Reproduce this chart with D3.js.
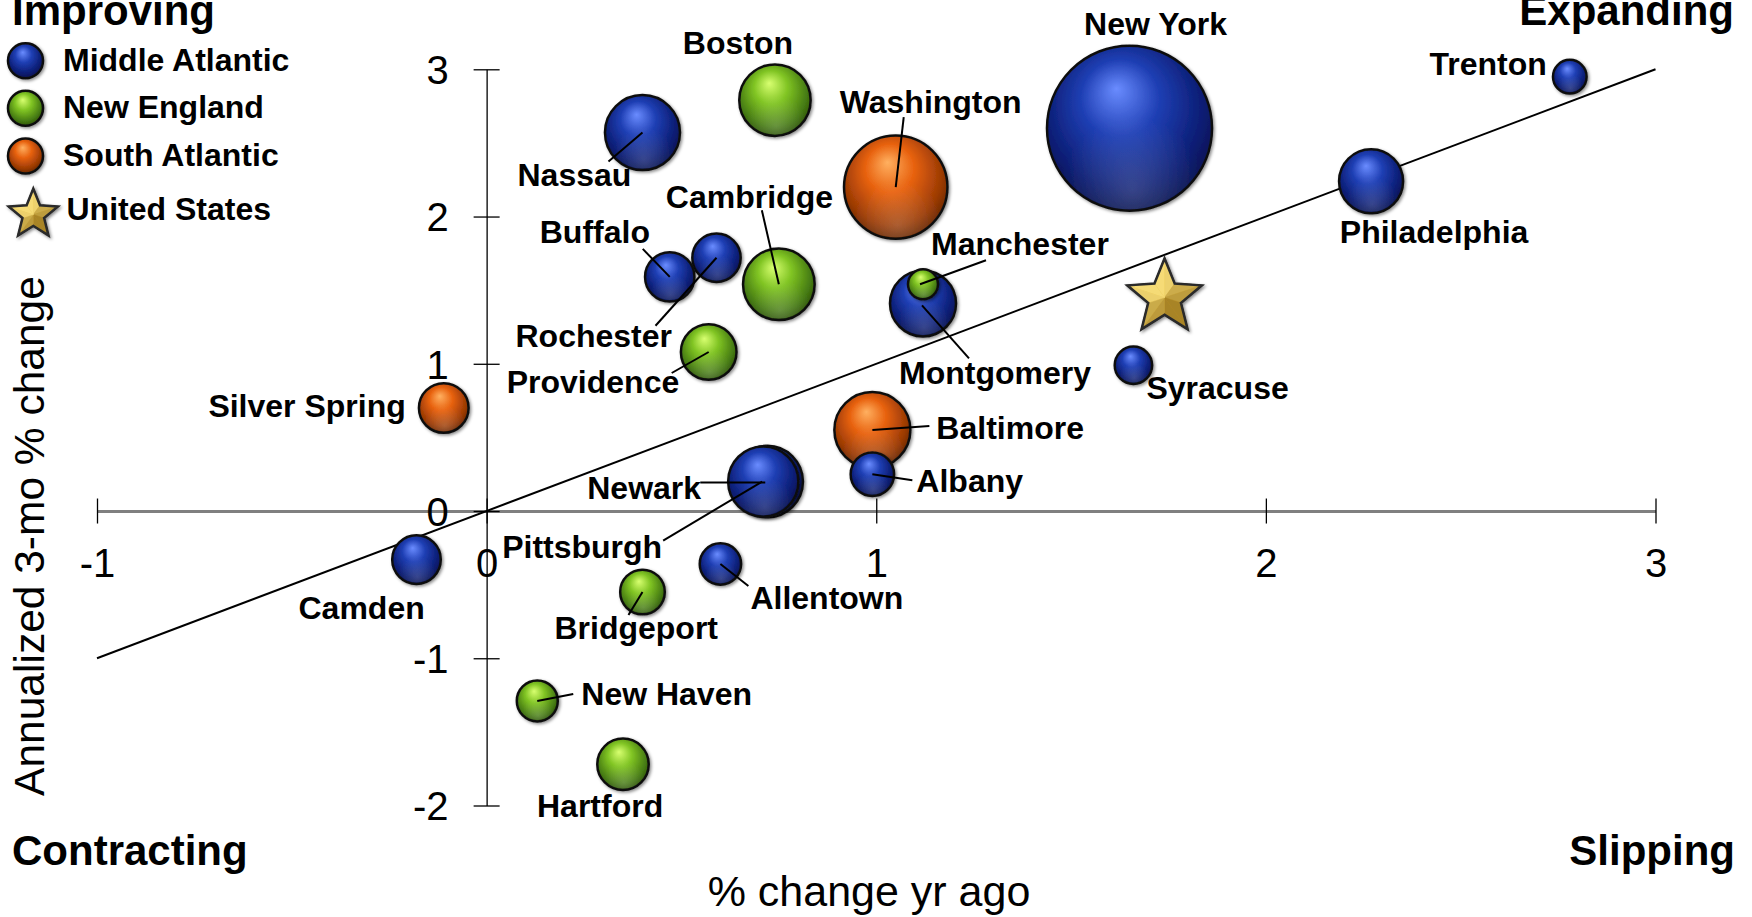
<!DOCTYPE html>
<html>
<head>
<meta charset="utf-8">
<script src="https://cdn.jsdelivr.net/npm/d3@7"></script>
<style>
  html, body { margin: 0; padding: 0; background: #fff; }
  svg { display: block; }
  text { font-family: "Liberation Sans", Arial, Helvetica, sans-serif; }
</style>
</head>
<body>
<svg id="chart" width="1752" height="917"></svg>
<script>
// ---------------- DATA ----------------
const regions = ["Middle Atlantic", "New England", "South Atlantic"];
// draw order = array order
const cities = ["New York", "Washington", "Baltimore", "Nassau", "Pittsburgh", "Newark", "Boston", "Cambridge",
  "Montgomery", "Philadelphia", "Providence", "Hartford", "Silver Spring", "Rochester", "Buffalo", "Camden",
  "Bridgeport", "Albany", "Allentown", "New Haven", "Syracuse", "Trenton", "Manchester"];
const cityRegion = [0, 2, 2, 0, 0, 0, 1, 1,
  0, 0, 1, 1, 2, 0, 0, 0,
  1, 0, 0, 1, 0, 0, 1];
const pctYrAgo = [1.65, 1.05, 0.99, 0.40, 0.72, 0.71, 0.74, 0.75,
  1.12, 2.27, 0.57, 0.35, -0.11, 0.59, 0.47, -0.18,
  0.40, 0.99, 0.60, 0.13, 1.66, 2.78, 1.12];
const annual3mo = [2.60, 2.20, 0.55, 2.57, 0.20, 0.20, 2.79, 1.54,
  1.41, 2.24, 1.08, -1.72, 0.70, 1.72, 1.59, -0.33,
  -0.55, 0.25, -0.36, -1.29, 0.99, 2.95, 1.54];
const sizes = [4200, 1649, 891, 868, 790, 760, 786, 791,
  672, 632, 477, 408, 380, 361, 376, 364,
  307, 291, 264, 259, 216, 174, 139];
const usName = "United States";
const usPoint = [1.74, 1.45];
const xTicks = [-1, 0, 1, 2, 3];
const yTicks = [-2, -1, 0, 1, 2, 3];
const fitLine = [[-1, -1], [3, 3]];
const quadrantLabels = ["Improving", "Expanding", "Contracting", "Slipping"];
const xTitle = "% change yr ago";
const yTitle = "Annualized 3-mo % change";

// ---------------- LAYOUT (pixels) ----------------
// label: [dx, dy, anchor, leaderDx, leaderDy, leaderEndDx, leaderEndDy] relative to bubble centre
const labelLayout = {
  "New York": [26, -93, "middle"],
  "Trenton": [-23, -2, "end"],
  "Philadelphia": [63, 62, "middle"],
  "Nassau": [-125, 53, "start", -34, 29, 0, 0],
  "Boston": [-37, -46, "middle"],
  "Washington": [-56, -74, "start", 8, -70, 0, 0],
  "Cambridge": [-113, -76, "start", -17, -74, 0, 0],
  "Buffalo": [-130, -34, "start", -27, -28, 0, 0],
  "Rochester": [-201, 89, "start", -61, 68, 0, 0],
  "Providence": [-202, 41, "start", -37, 21, 0, 0],
  "Manchester": [8, -29, "start", 63, -24, -3, 0],
  "Montgomery": [-24, 81, "start", 46, 55, -1, 2],
  "Syracuse": [13, 34, "start"],
  "Silver Spring": [-38, 9, "end"],
  "Baltimore": [64, 9, "start", 57, -4, 0, 0],
  "Albany": [44, 18, "start", 40, 6, 0, 0],
  "Newark": [-176, 17, "start", -63, 1, 2, 1],
  "Pittsburgh": [-265, 76, "start", -104, 59, -5, 0],
  "Camden": [-118, 59, "start"],
  "Allentown": [30, 45, "start", 28, 22, 0, 0],
  "Bridgeport": [-88, 47, "start", -14, 23, 0, 0],
  "New Haven": [44, 4, "start", 36, -7, 0, 0],
  "Hartford": [-86, 53, "start"]
};

const W = 1752, H = 917;
const svg = d3.select("#chart");

const x = d3.scaleLinear().domain([-1, 3]).range([97, 1655.5]);
const y = d3.scaleLinear().domain([-2, 3]).range([805.5, 69.3]);
const r = d3.scaleSqrt().domain([0, 4200]).range([0, 82.5]);

const palette = [
  { hi: "#6a8cff", mid: "#1f3fb4", lo: "#0b1c72", edge: "#061048" },
  { hi: "#d8ff70", mid: "#80c423", lo: "#457a12", edge: "#28480a" },
  { hi: "#ffb060", mid: "#e8620f", lo: "#9a3a04", edge: "#5a2202" }
];

const defs = svg.append("defs");
palette.forEach((p, i) => {
  const g = defs.append("radialGradient").attr("id", "grad" + i)
    .attr("cx", "48%").attr("cy", "42%").attr("r", "62%")
    .attr("fx", "42%").attr("fy", "26%");
  g.append("stop").attr("offset", "0%").attr("stop-color", p.hi);
  g.append("stop").attr("offset", "38%").attr("stop-color", p.mid);
  g.append("stop").attr("offset", "78%").attr("stop-color", p.lo);
  g.append("stop").attr("offset", "100%").attr("stop-color", p.edge);
});
// subtle bottom reflection
const refl = defs.append("radialGradient").attr("id", "refl")
  .attr("cx", "52%").attr("cy", "88%").attr("r", "45%");
refl.append("stop").attr("offset", "0%").attr("stop-color", "#fff").attr("stop-opacity", 0.18);
refl.append("stop").attr("offset", "100%").attr("stop-color", "#fff").attr("stop-opacity", 0);

const shadow = defs.append("filter").attr("id", "shadow").attr("x", "-20%").attr("y", "-20%")
  .attr("width", "150%").attr("height", "150%");
shadow.append("feDropShadow").attr("dx", 1.5).attr("dy", 1.5).attr("stdDeviation", 1.5)
  .attr("flood-color", "#000").attr("flood-opacity", 0.45);

// ---------------- AXES ----------------
const fmt = d => String(d);
const xAxis = d3.axisBottom(x).tickValues(xTicks).tickSize(0).tickPadding(0).tickFormat(fmt);
const gx = svg.append("g").attr("transform", `translate(0,${y(0)})`).call(xAxis);
gx.select(".domain").attr("stroke", "#808080").attr("stroke-width", 3);
gx.selectAll(".tick line").attr("y1", -12.5).attr("y2", 12.5).attr("stroke", "#000").attr("stroke-width", 1.3);
gx.selectAll(".tick text").attr("y", 66).attr("dy", 0).attr("font-size", 40)
  .attr("font-family", '"Liberation Sans", Arial, sans-serif').attr("fill", "#000");

const yAxis = d3.axisLeft(y).tickValues(yTicks).tickSize(0).tickPadding(0).tickFormat(fmt);
const gy = svg.append("g").attr("transform", `translate(${x(0)},0)`).call(yAxis);
gy.select(".domain").attr("stroke", "#000").attr("stroke-width", 1.3);
gy.selectAll(".tick line").attr("x1", -13).attr("x2", 13).attr("stroke", "#000").attr("stroke-width", 1.3);
gy.selectAll(".tick text").attr("x", -38).attr("dy", "0.36em").attr("font-size", 40)
  .attr("font-family", '"Liberation Sans", Arial, sans-serif').attr("fill", "#000");

// regression / reference line
svg.append("line")
  .attr("x1", x(fitLine[0][0])).attr("y1", y(fitLine[0][1]))
  .attr("x2", x(fitLine[1][0])).attr("y2", y(fitLine[1][1]))
  .attr("stroke", "#000").attr("stroke-width", 2);

// ---------------- BUBBLES ----------------
const data = cities.map((c, i) => ({
  name: c, region: cityRegion[i], x: pctYrAgo[i], y: annual3mo[i], size: sizes[i]
}));

const bub = svg.append("g");
data.forEach(d => {
  const cx = x(d.x), cy = y(d.y), rr = r(d.size);
  const g = bub.append("g").attr("filter", "url(#shadow)");
  g.append("circle").attr("cx", cx).attr("cy", cy).attr("r", rr)
    .attr("fill", `url(#grad${d.region})`).attr("stroke", "#111").attr("stroke-width", 2.5);
  g.append("circle").attr("cx", cx).attr("cy", cy).attr("r", rr - 1.5)
    .attr("fill", "url(#refl)");
});

// ---------------- STAR ----------------
function drawStar(parent, cx, cy, R) {
  const inner = R * 0.44;
  const pts = d3.range(10).map(i => {
    const a = (-90 + i * 36) * Math.PI / 180;
    const rr = i % 2 === 0 ? R : inner;
    return [cx + rr * Math.cos(a), cy + rr * Math.sin(a)];
  });
  const g = parent.append("g").attr("filter", "url(#shadow)");
  g.append("path").attr("d", "M" + pts.map(p => p.join(",")).join("L") + "Z")
    .attr("fill", "#d9a520").attr("stroke", "#2a2a2a").attr("stroke-width", 3).attr("stroke-linejoin", "miter");
  const light = d3.interpolateRgb("#8a6208", "#ffe680");
  for (let i = 0; i < 10; i++) {
    const p1 = pts[i], p2 = pts[(i + 1) % 10];
    const mx = (p1[0] + p2[0]) / 2 - cx, my = (p1[1] + p2[1]) / 2 - cy;
    const ang = Math.atan2(my, mx);
    const lightAng = Math.atan2(-1, -0.7);
    let t = 0.5 + 0.5 * Math.cos(ang - lightAng);
    t = 0.25 + 0.7 * t;
    g.append("path")
      .attr("d", `M${cx},${cy}L${p1[0]},${p1[1]}L${p2[0]},${p2[1]}Z`)
      .attr("fill", light(t)).attr("stroke", light(t)).attr("stroke-width", 0.4);
  }
  g.append("path").attr("d", "M" + pts.map(p => p.join(",")).join("L") + "Z")
    .attr("fill", "none").attr("stroke", "#2a2a2a").attr("stroke-width", 2);
}
drawStar(svg, x(usPoint[0]), y(usPoint[1]), 38.5);

// ---------------- LEADERS & LABELS ----------------
const lab = svg.append("g");
data.forEach(d => {
  const L = labelLayout[d.name];
  if (!L) return;
  const cx = x(d.x), cy = y(d.y);
  if (L.length > 3) {
    lab.append("line")
      .attr("x1", cx + L[3]).attr("y1", cy + L[4])
      .attr("x2", cx + L[5]).attr("y2", cy + L[6])
      .attr("stroke", "#000").attr("stroke-width", 2);
  }
});
data.forEach(d => {
  const L = labelLayout[d.name];
  if (!L) return;
  const cx = x(d.x), cy = y(d.y);
  lab.append("text").attr("x", cx + L[0]).attr("y", cy + L[1])
    .attr("text-anchor", L[2]).attr("font-size", 32).attr("font-weight", "bold")
    .attr("fill", "#000").text(d.name);
});

// ---------------- LEGEND ----------------
const leg = svg.append("g");
const legY = [60.7, 108.3, 156];
regions.forEach((name, i) => {
  const g = leg.append("g").attr("filter", "url(#shadow)");
  g.append("circle").attr("cx", 25.5).attr("cy", legY[i]).attr("r", 17.5)
    .attr("fill", `url(#grad${i})`).attr("stroke", "#111").attr("stroke-width", 2.5);
  leg.append("text").attr("x", 63).attr("y", legY[i] + 10).attr("font-size", 32)
    .attr("font-weight", "bold").text(name);
});
drawStar(leg, 33.3, 214.5, 25.2);
leg.append("text").attr("x", 66.5).attr("y", 220).attr("font-size", 32)
  .attr("font-weight", "bold").text(usName);

// ---------------- QUADRANT LABELS ----------------
const qPos = [[12, 25, "start"], [1734, 25, "end"], [12, 865, "start"], [1735, 865, "end"]];
quadrantLabels.forEach((t, i) => {
  svg.append("text").attr("x", qPos[i][0]).attr("y", qPos[i][1]).attr("text-anchor", qPos[i][2])
    .attr("font-size", 42).attr("font-weight", "bold").text(t);
});

// ---------------- AXIS TITLES ----------------
svg.append("text").attr("x", 869).attr("y", 906).attr("text-anchor", "middle")
  .attr("font-size", 43).text(xTitle);
svg.append("text").attr("transform", "translate(44,536) rotate(-90)").attr("text-anchor", "middle")
  .attr("font-size", 42.5).text(yTitle);
</script>
</body>
</html>
